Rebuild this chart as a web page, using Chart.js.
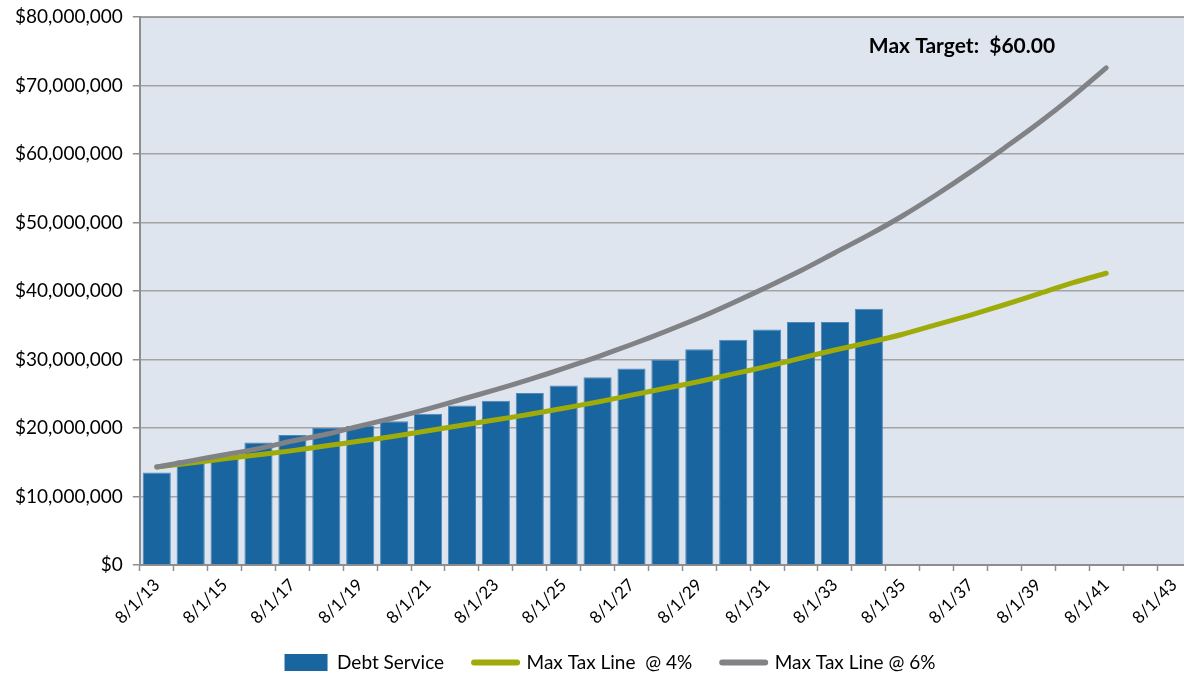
<!DOCTYPE html>
<html>
<head>
<meta charset="utf-8">
<script src="https://cdn.jsdelivr.net/npm/chart.js@4.4.1/dist/chart.umd.min.js"></script>
<style>
  html, body { margin: 0; padding: 0; background: #fff; overflow: hidden; }
  #wrap { width: 1220px; height: 674px; }
</style>
</head>
<body>
<div id="wrap"><canvas id="debtChart"></canvas></div>
<script>
// categories: 8/1/13 .. 8/1/43
const years = ['8/1/13','8/1/14','8/1/15','8/1/16','8/1/17','8/1/18','8/1/19','8/1/20','8/1/21','8/1/22',
  '8/1/23','8/1/24','8/1/25','8/1/26','8/1/27','8/1/28','8/1/29','8/1/30','8/1/31','8/1/32',
  '8/1/33','8/1/34','8/1/35','8/1/36','8/1/37','8/1/38','8/1/39','8/1/40','8/1/41','8/1/42','8/1/43'];

// values in $ millions
const debtService = [13.5, 15.3, 15.6, 17.9, 19.0, 20.0, 20.3, 21.0, 22.1, 23.3, 24.0, 25.1,
  26.2, 27.4, 28.7, 30.0, 31.5, 32.9, 34.4, 35.5, 35.5, 37.4];
const taxLine4 = [14.3, 14.9, 15.5, 16.1, 16.7, 17.4, 18.1, 18.8, 19.6, 20.4, 21.2, 22.0, 22.9, 23.8,
  24.8, 25.8, 26.8, 27.9, 29.0, 30.2, 31.4, 32.5, 33.7, 35.1, 36.5, 38.0, 39.6, 41.2, 42.6];
const taxLine6 = [14.3, 15.2, 16.1, 17.0, 18.1, 19.1, 20.3, 21.5, 22.8, 24.2, 25.6, 27.1, 28.7, 30.4,
  32.2, 34.1, 36.1, 38.3, 40.6, 43.0, 45.6, 48.2, 51.0, 54.1, 57.4, 60.9, 64.5, 68.4, 72.6];

const yTicks = [0, 10, 20, 30, 40, 50, 60, 70, 80];
const targetNote = 'Max Target:  $60.00';

const toDollars = arr => arr.map(v => v * 1000000);

const plotBackground = {
  id: 'plotBackground',
  afterLayout(chart) {
    // the original legend sits a little right of the plot's centre
    chart.legend.left += 12;
    chart.legend.right += 12;
  },
  beforeDraw(chart) {
    const { ctx, chartArea: a } = chart;
    ctx.save();
    ctx.fillStyle = '#dfe5ef';
    ctx.fillRect(a.left, a.top, a.right - a.left, a.bottom - a.top);
    // top frame line
    ctx.strokeStyle = '#8e8e8e';
    ctx.lineWidth = 1.5;
    ctx.beginPath();
    ctx.moveTo(a.left, a.top);
    ctx.lineTo(a.right, a.top);
    ctx.stroke();
    ctx.restore();
  },
  afterDraw(chart) {
    const { ctx, scales } = chart;
    ctx.save();
    ctx.font = 'bold 21px Lato';
    ctx.fillStyle = '#000';
    ctx.textBaseline = 'middle';
    ctx.fillText(targetNote, scales.x.getPixelForValue(21.0), scales.y.getPixelForValue(75800000));
    ctx.restore();
  }
};

const ctx = document.getElementById('debtChart').getContext('2d');
new Chart(ctx, {
  type: 'bar',
  data: {
    labels: years,
    datasets: [
      {
        type: 'line',
        label: 'Max Tax Line  @ 4%',
        data: toDollars(taxLine4),
        borderColor: '#9eab08',
        backgroundColor: '#9eab08',
        borderWidth: 5,
        borderCapStyle: 'round',
        pointRadius: 0,
        tension: 0.3,
        order: 1
      },
      {
        type: 'line',
        label: 'Max Tax Line @ 6%',
        data: toDollars(taxLine6),
        borderColor: '#818285',
        backgroundColor: '#818285',
        borderWidth: 5,
        borderCapStyle: 'round',
        pointRadius: 0,
        tension: 0.3,
        order: 0
      },
      {
        label: 'Debt Service',
        data: toDollars(debtService),
        backgroundColor: '#18659f',
        borderColor: '#4f88b8',
        borderWidth: 1,
        barPercentage: 0.83,
        categoryPercentage: 1,
        order: 2
      }
    ]
  },
  options: {
    responsive: true,
    maintainAspectRatio: false,
    animation: false,
    layout: { padding: { left: 5, right: 29, top: 0, bottom: -8 } },
    plugins: {
      tooltip: { enabled: false },
      legend: {
        position: 'bottom',
        labels: {
          color: '#000',
          font: { family: 'Lato', size: 19 },
          boxWidth: 43,
          boxHeight: 17,
          padding: 30,
          usePointStyle: true,
          pointStyleWidth: 43,
          sort: (a, b) => (a.datasetIndex === 2 ? -1 : b.datasetIndex === 2 ? 1 : a.datasetIndex - b.datasetIndex),
          generateLabels(chart) {
            const items = Chart.defaults.plugins.legend.labels.generateLabels(chart);
            items.forEach(it => {
              const ds = chart.data.datasets[it.datasetIndex];
              if (ds.type === 'line') {
                it.pointStyle = 'line';
                it.lineWidth = 6;
                it.strokeStyle = ds.borderColor;
                it.lineCap = 'round';
              } else {
                it.pointStyle = 'rect';
                it.lineWidth = 0;
                it.fillStyle = ds.backgroundColor;
              }
            });
            return items;
          }
        }
      }
    },
    scales: {
      x: {
        offset: true,
        afterFit(scale) {
          scale.height = 58;
        },
        grid: {
          offset: true,
          drawOnChartArea: false,
          drawTicks: true,
          tickLength: 6,
          tickColor: '#8e8e8e',
          tickWidth: 1.5
        },
        border: { color: '#8e8e8e', width: 2 },
        ticks: {
          autoSkip: false,
          maxRotation: 45,
          minRotation: 45,
          color: '#000',
          font: { family: 'Lato', size: 17 },
          padding: 4,
          callback: (v, i) => (i % 2 === 0 ? years[i] : '')
        }
      },
      y: {
        min: 0,
        max: 80000000,
        afterBuildTicks(scale) {
          scale.ticks = yTicks.map(v => ({ value: v * 1000000 }));
        },
        grid: {
          color: '#a3a3a3',
          lineWidth: 1.5,
          tickLength: 7,
          tickColor: '#8e8e8e'
        },
        border: { color: '#8e8e8e', width: 2 },
        ticks: {
          color: '#000',
          font: { family: 'Lato', size: 19, lineHeight: 0.75 },
          padding: 10,
          callback: v => '$' + Number(v).toLocaleString('en-US')
        }
      }
    }
  },
  plugins: [plotBackground]
});
</script>
</body>
</html>
